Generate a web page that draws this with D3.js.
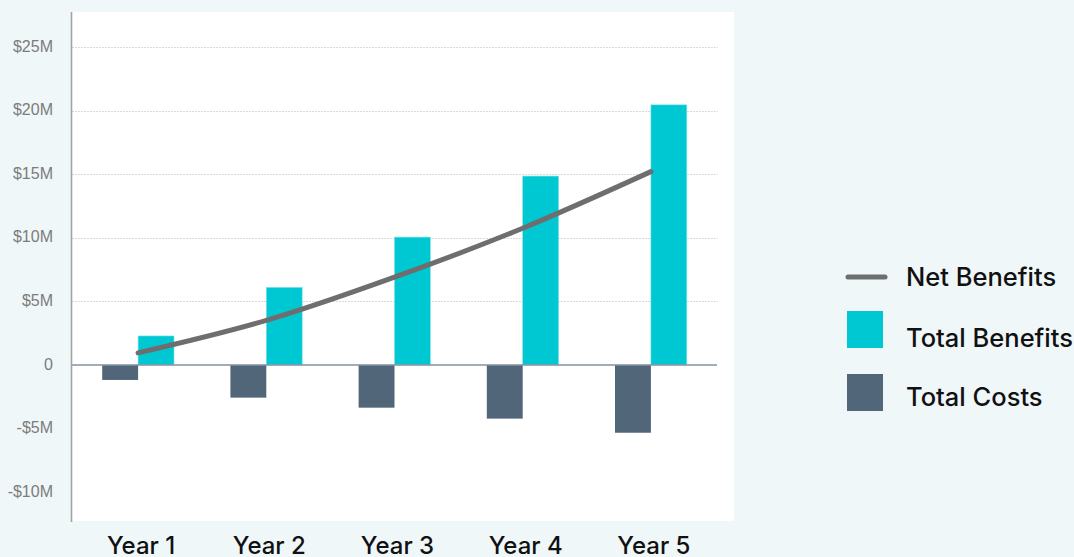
<!DOCTYPE html>
<html>
<head>
<meta charset="utf-8">
<script src="https://cdn.jsdelivr.net/npm/d3@7"></script>
<style>
  html, body { margin: 0; padding: 0; background: #eff7f9; }
  svg { display: block; }
</style>
</head>
<body>
<svg id="chart" width="1074" height="557"></svg>
<script>
// ---- data ----
const categories = ["Year 1", "Year 2", "Year 3", "Year 4", "Year 5"];
const totalCosts = [-1.18, -2.57, -3.36, -4.22, -5.33];      // $M
const totalBenefits = [2.28, 6.1, 10.05, 14.85, 20.45];      // $M
const netBenefits = [0.95, 3.5, 6.9, 10.75, 15.2];            // $M
const yTicks = [-10, -5, 0, 5, 10, 15, 20, 25];
const yTickLabels = ["-$10M", "-$5M", "0", "$5M", "$10M", "$15M", "$20M", "$25M"];
const seriesNames = ["Net Benefits", "Total Benefits", "Total Costs"];

const colors = { net: "#6e6e6e", benefits: "#00c8d2", costs: "#52667a" };

const svg = d3.select("#chart");
const panel = { left: 71, right: 734, top: 12, bottom: 521 };

// white panel
svg.append("rect")
  .attr("x", panel.left).attr("y", panel.top)
  .attr("width", panel.right - panel.left).attr("height", panel.bottom - panel.top)
  .attr("fill", "#ffffff");

const y = d3.scaleLinear().domain([-12.27, 27.75]).range([panel.bottom, panel.top]);
const x0 = d3.scaleBand().domain(categories).range([74, 715]).paddingInner(0.44).paddingOuter(0.22);
const x1 = d3.scaleBand().domain(["costs", "benefits"]).range([0, x0.bandwidth()]);

// gridlines
svg.append("g").selectAll("line")
  .data(yTicks.filter(d => d > 0))
  .join("line")
  .attr("x1", panel.left + 1).attr("x2", 718)
  .attr("y1", d => Math.round(y(d)) + 0.5).attr("y2", d => Math.round(y(d)) + 0.5)
  .attr("stroke", "#dadada").attr("stroke-width", 1).attr("stroke-dasharray", "2,1");

// y axis labels
const yAxis = d3.axisLeft(y).tickValues(yTicks)
  .tickFormat((d, i) => yTickLabels[i]).tickSize(0).tickPadding(0);
const yg = svg.append("g").attr("transform", "translate(53,-1)").call(yAxis);
yg.select(".domain").remove();
yg.selectAll("text")
  .attr("fill", "#7c7c7c")
  .style("font-family", "'Liberation Sans', Arial, Helvetica, sans-serif")
  .style("font-size", "16px");

// bars
const groups = svg.append("g").selectAll("g")
  .data(categories)
  .join("g")
  .attr("transform", d => `translate(${x0(d)},0)`);

groups.append("rect")
  .attr("x", x1("costs"))
  .attr("width", x1.bandwidth())
  .attr("y", (d, i) => y(0))
  .attr("height", (d, i) => y(totalCosts[i]) - y(0))
  .attr("fill", colors.costs);

groups.append("rect")
  .attr("x", x1("benefits"))
  .attr("width", x1.bandwidth())
  .attr("y", (d, i) => y(totalBenefits[i]))
  .attr("height", (d, i) => y(0) - y(totalBenefits[i]))
  .attr("fill", colors.benefits)
  .attr("stroke", "#7fe3e8").attr("stroke-width", 0.6);

// zero line
svg.append("line")
  .attr("x1", panel.left).attr("x2", 717)
  .attr("y1", y(0)).attr("y2", y(0))
  .attr("stroke", "#8492a2").attr("stroke-width", 1.6);

// left axis line
svg.append("line")
  .attr("x1", 71.5).attr("x2", 71.5)
  .attr("y1", panel.top).attr("y2", panel.bottom + 1)
  .attr("stroke", "#a3a3a3").attr("stroke-width", 1.6);

// net benefits line
const line = d3.line()
  .x((d, i) => x0(categories[i]) + x0.bandwidth() / 2)
  .y(d => y(d))
  .curve(d3.curveMonotoneX);

svg.append("path")
  .datum(netBenefits)
  .attr("d", line)
  .attr("fill", "none")
  .attr("stroke", colors.net)
  .attr("stroke-width", 5)
  .attr("stroke-linecap", "round");

// x axis labels
const xAxis = d3.axisBottom(x0).tickSize(0).tickPadding(0);
const xg = svg.append("g").attr("transform", "translate(3,536)").call(xAxis);
xg.select(".domain").remove();
xg.selectAll("text")
  .attr("fill", "#111")
  .attr("dy", "0.75em")
  .style("font-family", "Inter, 'Noto Sans', sans-serif")
  .style("font-weight", "500")
  .style("font-size", "24px");

// legend
const legend = svg.append("g").attr("transform", "translate(847,0)");
const legendY = [277, 329, 392];
legend.append("line")
  .attr("x1", 1).attr("x2", 38).attr("y1", legendY[0]).attr("y2", legendY[0])
  .attr("stroke", colors.net).attr("stroke-width", 5).attr("stroke-linecap", "round");
legend.append("rect")
  .attr("x", 0).attr("y", legendY[1] - 18).attr("width", 36).attr("height", 37)
  .attr("fill", colors.benefits);
legend.append("rect")
  .attr("x", 0).attr("y", legendY[2] - 18).attr("width", 36).attr("height", 37)
  .attr("fill", colors.costs);
legend.selectAll("text")
  .data(seriesNames)
  .join("text")
  .attr("x", 59)
  .attr("y", (d, i) => legendY[i] + [0, 9, 5][i])
  .attr("dy", "0.35em")
  .attr("fill", "#111")
  .style("font-family", "Inter, 'Noto Sans', sans-serif")
  .style("font-weight", "500")
  .style("font-size", "25.5px")
  .text(d => d);
</script>
</body>
</html>
